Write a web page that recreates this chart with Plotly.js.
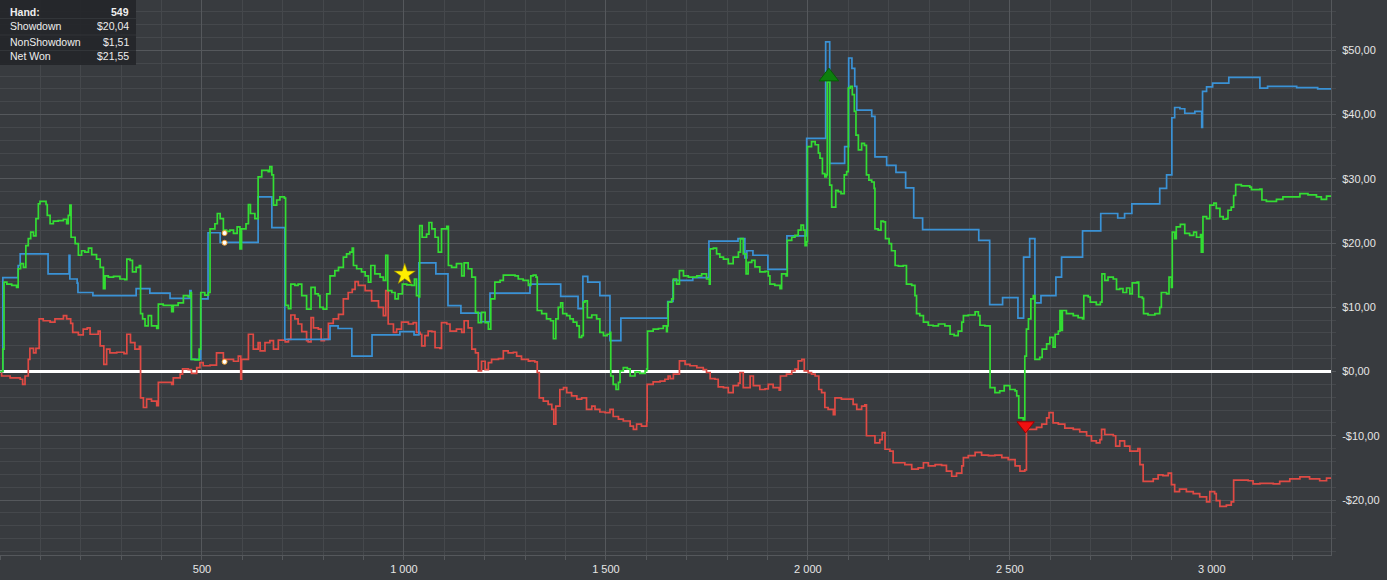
<!DOCTYPE html>
<html><head><meta charset="utf-8">
<script src="https://cdn.plot.ly/plotly-3.0.1.min.js"></script>
<style>html,body{margin:0;padding:0;background:#383b3f;}#chart{width:1387px;height:580px;}</style>
</head><body><div id="chart"></div>
<script>
// Showdown winnings (blue, step line)
const showdownHands=[0,7,45,50,119,171,173,191,193,230,337,371,421,470,473,497,515,545,639,673,705,817,837,871,921,990,1025,1037,1079,1109,1141,1190,1213,1312,1388,1431,1443,1455,1485,1510,1537,1653,1666,1715,1755,1827,1844,1849,1864,1901,1948,1997,2044,2054,2091,2101,2109,2116,2121,2158,2166,2195,2218,2242,2262,2284,2423,2450,2482,2520,2534,2549,2562,2577,2614,2628,2680,2725,2767,2784,2802,2871,2888,2901,2908,2921,2933,2958,2975,2977,2987,3002,3042,3119,3138,3210,3262,3295];
const showdownValues=[0,14.6,16.5,18.3,15.2,18.1,14.4,13.75,12.3,11.8,12.9,12.2,11.4,12.6,1.9,11.3,21.6,20.1,27.2,22.4,5.0,7.1,6.7,2.4,5.7,6.2,5.7,16.9,15.2,10.25,9.1,7.75,12.2,13.6,11.7,9.8,14.8,13.9,11.8,4.8,8.3,10.9,14.2,14.6,20.3,20.7,17.7,18.8,18.1,15.9,21.1,36.3,51.3,32.4,35.0,48.8,47.2,44.4,40.7,39.7,33.4,32.1,31.0,28.6,23.9,22.1,20.4,10.4,11.5,8.3,17.8,20.7,10.7,11.8,14.7,17.8,21.9,24.6,23.9,24.6,26.1,28.5,30.6,39.5,41.1,40.9,40.2,40.5,38.0,43.6,44.3,44.9,45.8,44.1,44.4,44.2,44.0,44.0];

// Non-showdown winnings (red)
const nonShowdownHands=[0,4,25,50,56,62,70,74,83,89,97,107,124,136,157,165,175,180,194,206,216,223,243,248,257,264,272,289,307,314,323,334,345,348,355,363,375,388,392,413,425,429,446,452,466,474,487,495,503,520,536,553,578,590,596,598,615,627,639,644,656,668,677,689,706,714,720,730,738,747,759,763,770,776,788,795,803,813,825,838,850,862,872,879,887,904,920,937,949,955,961,974,982,994,1011,1023,1031,1040,1044,1052,1060,1069,1077,1089,1093,1106,1114,1130,1143,1149,1159,1168,1177,1184,1192,1201,1209,1217,1234,1246,1258,1271,1279,1291,1308,1312,1324,1330,1335,1345,1357,1366,1371,1376,1386,1395,1403,1415,1428,1440,1452,1465,1473,1485,1498,1510,1518,1531,1543,1560,1568,1576,1588,1601,1602,1617,1634,1646,1654,1659,1667,1679,1682,1696,1708,1725,1741,1749,1758,1770,1778,1791,1803,1815,1828,1832,1840,1857,1865,1881,1894,1902,1914,1929,1932,1947,1960,1968,1976,1985,1991,2001,2009,2018,2027,2034,2042,2050,2063,2067,2083,2100,2112,2121,2133,2141,2145,2158,2166,2178,2184,2191,2203,2211,2224,2240,2257,2273,2286,2298,2315,2331,2343,2356,2368,2381,2385,2397,2414,2430,2447,2463,2480,2496,2513,2525,2537,2541,2554,2566,2579,2591,2597,2607,2620,2636,2657,2673,2690,2702,2714,2723,2727,2735,2747,2756,2762,2772,2784,2797,2809,2817,2822,2830,2842,2855,2867,2879,2892,2900,2908,2920,2937,2954,2970,2987,2995,3007,3011,3020,3036,3048,3054,3069,3090,3102,3119,3152,3168,3193,3218,3242,3267,3284,3295];
const nonShowdownValues=[0,-0.7,-1.0,-1.2,-2.0,-0.7,1.9,3.6,2.9,3.6,8.2,7.9,7.7,8.2,8.7,8.2,7.5,6.1,5.7,6.6,6.8,5.8,6.3,4.0,1.1,3.5,2.9,3.0,2.8,5.8,4.5,3.5,3.9,-4.1,-5.6,-4.3,-4.6,-5.3,-1.7,-1.7,-2.0,-1.0,-0.4,0.4,0.3,-0.3,0.6,1.4,0.9,1.0,2.9,1.9,1.6,2.4,-1.2,1.9,5.8,3.5,4.5,3.2,4.5,4.8,3.5,4.9,4.6,5.0,8.8,8.2,7.4,6.2,4.8,4.6,8.4,6.8,6.6,4.8,5.0,7.5,8.2,8.9,11.3,12.3,12.8,14.0,13.4,12.6,11.0,10.0,8.7,12.6,7.4,6.1,6.6,7.7,7.4,7.6,6.1,5.8,4.0,5.6,6.3,6.2,3.7,3.6,7.6,7.4,6.3,6.6,6.1,7.9,6.8,3.5,2.9,0.1,1.6,0.3,1.4,1.9,2.0,3.2,2.9,3.0,2.4,1.9,1.6,1.66,1.5,-0.15,-4.1,-4.6,-5.1,-5.9,-8.2,-5.4,-2.8,-2.5,-3.3,-3.8,-4.3,-4.1,-5.9,-5.4,-5.9,-6.3,-6.4,-5.9,-7.0,-7.4,-7.7,-8.5,-9.0,-8.2,-8.5,-7.7,-2.0,-1.6,-1.5,-1.2,-0.7,-1.1,-0.4,-0.4,1.66,1.1,0.9,0.6,0.3,-0.15,-1.1,-1.2,-2.4,-2.5,-3.3,-2.2,-1.8,-0.15,-2.5,-0.7,-2.2,-2.8,-2.7,-2.0,-2.5,-2.9,-0.7,-0.4,0.08,0.36,1.66,1.9,0.1,-0.16,-0.4,-0.7,-2.8,-3.3,-5.6,-5.9,-6.7,-4.1,-4.3,-4.3,-5.1,-5.9,-5.4,-5.2,-10.0,-10.0,-11.1,-10.6,-9.5,-12.1,-12.4,-14.2,-14.2,-14.5,-15.2,-15.0,-14.2,-14.7,-14.5,-14.6,-15.5,-16.3,-15.8,-14.7,-13.4,-13.1,-12.6,-13.0,-13.1,-13.0,-13.4,-13.7,-14.7,-15.5,-15.3,-9.0,-9.0,-8.7,-8.2,-7.2,-6.4,-8.0,-8.2,-8.8,-9.0,-9.4,-10.0,-10.8,-11.1,-10.6,-9.0,-9.8,-9.8,-10.0,-11.6,-10.8,-11.6,-12.4,-12.4,-12.0,-14.5,-17.1,-17.1,-16.7,-16.1,-16.2,-15.8,-17.6,-18.7,-18.3,-18.7,-19.0,-19.5,-20.3,-18.7,-19.0,-20.1,-21.0,-20.8,-20.3,-16.9,-16.9,-17.0,-17.5,-17.4,-17.5,-17.1,-16.7,-16.4,-16.7,-17.0,-16.6,-16.6];

// Net won (green)
const netWonHands=[0,7,10,17,29,41,45,51,58,64,70,76,83,89,95,99,114,117,124,132,144,157,165,169,173,176,186,194,202,210,219,227,239,248,256,260,268,281,297,309,314,322,328,337,345,348,353,359,367,375,388,392,404,417,425,429,441,454,466,472,474,483,493,497,507,516,520,532,538,545,553,561,569,578,587,594,598,609,615,620,631,639,648,656,664,668,673,677,685,693,704,707,714,720,730,738,747,759,763,770,780,788,792,800,809,817,829,838,850,858,866,872,875,883,895,904,912,918,928,941,949,955,960,970,978,986,996,1007,1019,1026,1031,1037,1039,1045,1056,1062,1069,1077,1085,1093,1106,1110,1118,1130,1143,1149,1159,1168,1177,1184,1192,1201,1209,1215,1225,1238,1246,1262,1275,1283,1295,1308,1314,1320,1327,1330,1341,1353,1363,1370,1376,1382,1388,1393,1403,1411,1419,1428,1434,1440,1444,1448,1454,1465,1477,1485,1494,1503,1510,1512,1518,1525,1531,1535,1543,1553,1560,1572,1584,1597,1601,1603,1617,1630,1642,1650,1652,1654,1663,1667,1675,1682,1692,1704,1716,1725,1737,1749,1756,1758,1766,1774,1782,1791,1803,1815,1828,1833,1840,1847,1852,1861,1869,1881,1894,1902,1906,1918,1931,1935,1946,1949,1960,1968,1976,1983,1989,1993,1997,1999,2009,2018,2026,2030,2036,2042,2046,2048,2052,2054,2059,2065,2069,2075,2082,2090,2096,2100,2105,2110,2115,2119,2125,2133,2140,2145,2151,2158,2164,2166,2174,2181,2187,2192,2201,2207,2216,2224,2236,2244,2257,2265,2269,2277,2286,2298,2310,2323,2339,2352,2362,2372,2381,2385,2397,2414,2422,2426,2438,2449,2451,2463,2475,2486,2500,2513,2517,2522,2533,2537,2541,2546,2552,2558,2562,2574,2580,2591,2599,2607,2612,2620,2624,2628,2630,2640,2657,2669,2680,2683,2694,2699,2714,2724,2728,2735,2743,2756,2764,2772,2780,2789,2797,2803,2815,2819,2828,2831,2842,2859,2871,2875,2888,2894,2900,2902,2908,2912,2922,2933,2945,2955,2962,2972,2974,2978,2987,2995,3005,3011,3020,3028,3036,3040,3048,3054,3059,3073,3094,3098,3119,3124,3135,3160,3176,3193,3218,3238,3259,3271,3284,3295];
const netWonValues=[0,3.5,13.9,13.6,13.4,13.1,16.0,16.8,16.2,19.6,20.7,21.7,21.1,23.8,26.1,26.5,26.0,24.3,23.0,23.4,23.5,23.7,23.0,24.3,25.9,20.9,19.9,18.1,18.8,18.6,19.2,18.2,17.5,16.2,12.9,14.9,14.7,14.8,14.4,14.3,17.5,17.3,15.5,16.2,16.5,9.0,8.2,7.1,8.7,7.1,6.7,10.5,10.3,10.3,9.3,10.3,10.7,11.8,11.6,12.3,1.9,1.8,3.5,12.3,11.9,12.3,22.2,23.0,24.6,23.8,22.0,21.8,22.0,21.5,22.5,19.1,22.2,23.0,26.0,24.6,23.8,30.3,31.3,31.3,31.1,31.9,30.6,25.9,26.7,27.2,27.0,10.3,9.8,13.6,13.4,13.6,11.8,9.7,9.7,13.1,12.1,11.8,10.0,9.7,12.1,14.9,15.7,16.2,17.8,18.3,18.6,19.2,16.5,16.0,15.5,14.9,13.9,16.5,15.2,14.7,14.2,18.1,12.6,12.3,11.3,12.1,13.6,13.5,13.4,14.4,11.8,11.6,22.7,20.9,21.4,23.2,22.2,20.9,18.6,22.2,22.6,16.5,16.2,16.8,14.9,16.9,16.0,14.7,9.2,7.6,9.2,7.6,6.6,11.3,13.9,14.2,15.0,15.0,14.9,14.4,14.2,13.4,14.9,15.0,14.7,9.5,9.0,8.2,7.9,5.1,8.2,10.0,10.7,9.0,8.7,8.2,7.7,7.1,5.3,5.6,10.8,11.0,8.4,8.8,8.2,6.1,5.6,5.8,6.1,-0.7,-2.0,-2.8,-1.7,0.1,0.6,0.4,-0.7,-0.05,-0.3,0.1,0.4,6.3,6.6,6.7,7.1,6.2,7.1,10.8,11.3,14.4,13.6,15.7,14.9,14.7,14.7,14.9,15.2,14.4,13.6,19.1,19.2,18.3,17.8,17.5,16.8,17.8,18.6,20.7,18.3,15.2,17.0,17.3,16.3,15.5,15.6,14.9,13.6,13.4,12.9,15.2,14.9,20.4,20.9,21.2,22.0,22.8,22.0,19.6,20.2,35.0,35.8,35.3,34.0,33.2,30.8,30.3,30.6,45.1,45.1,29.0,25.6,25.6,28.2,28.0,27.7,30.6,31.1,44.1,44.4,43.1,40.5,36.8,34.5,35.5,35.2,30.6,29.8,29.5,28.5,22.2,22.0,23.4,23.3,20.7,19.9,18.8,16.5,16.4,16.5,13.6,13.4,11.8,9.0,8.7,7.7,7.2,7.1,7.4,7.1,5.8,5.6,6.3,7.7,8.7,8.8,9.3,8.7,7.2,7.1,7.1,-2.5,-3.3,-3.0,-2.2,-2.8,-3.0,-3.8,-7.2,-7.5,2.4,6.6,8.2,11.3,11.8,1.9,2.2,3.5,4.3,5.3,3.8,5.8,6.3,9.5,6.4,9.5,9.0,8.7,8.4,8.2,11.8,11.6,10.8,10.4,10.8,15.2,14.2,14.7,14.4,12.8,12.9,12.3,13.0,12.1,13.8,13.9,11.6,11.4,9.0,8.8,9.0,10.0,12.3,12.1,14.7,13.1,21.7,20.7,22.5,22.9,21.5,21.2,21.7,20.9,21.3,18.6,24.1,23.8,25.9,26.2,25.4,24.1,23.7,23.8,25.1,25.6,27.4,29.1,28.9,28.7,28.3,28.4,26.7,26.5,26.8,27.2,27.2,27.7,27.5,27.2,26.8,27.3,27.4];

// Event markers
const bestHand=[2052], bestValue=[45.9];
const worstHand=[2539], worstValue=[-8.4];
const starHand=[1002], starValue=[15.1];
const selectedHand=[556,556,556], selectedValues=[21.55,20.04,1.51];

// Axis ticks
const xTickVals=[500,1000,1500,2000,2500,3000];
const xTickText=['500','1 000','1 500','2 000','2 500','3 000'];
const yTickVals=[-20,-10,0,10,20,30,40,50];
const yTickText=['-$20,00','-$10,00','$0,00','$10,00','$20,00','$30,00','$40,00','$50,00'];

// Info box
const infoLabels=['Hand:','Showdown','NonShowdown','Net Won'];
const infoValues=['549','$20,04','$1,51','$21,55'];

const BG='#383b3f', GRID='#55585c', MINOR='#45484c';
const W=1331, H=555;

const traces=[
 {x:nonShowdownHands,y:nonShowdownValues,type:'scatter',mode:'lines',line:{color:'#df4a44',width:1.7,shape:'hv'},hoverinfo:'skip'},
 {x:showdownHands,y:showdownValues,type:'scatter',mode:'lines',line:{color:'#3a92d6',width:1.7,shape:'hv'},hoverinfo:'skip'},
 {x:netWonHands,y:netWonValues,type:'scatter',mode:'lines',line:{color:'#33dd33',width:1.7,shape:'hv'},hoverinfo:'skip'},
 {x:bestHand,y:bestValue,type:'scatter',mode:'markers',marker:{symbol:'triangle-up',size:17,color:'#0d7f0d',line:{color:'#075a07',width:1}},hoverinfo:'skip'},
 {x:worstHand,y:worstValue,type:'scatter',mode:'markers',marker:{symbol:'triangle-down',size:15,color:'#f01010',line:{color:'#a00000',width:1}},hoverinfo:'skip'},
 {x:starHand,y:starValue,type:'scatter',mode:'markers',marker:{symbol:'star',size:16,color:'#ffee00',line:{color:'#8a7a00',width:0.6}},hoverinfo:'skip'},
 {x:selectedHand,y:selectedValues,type:'scatter',mode:'markers',marker:{symbol:'circle',size:5,color:'#ffffff',line:{color:'#f0a030',width:1}},hoverinfo:'skip'}
];

const annotations=[];
const rowsY=[11.5,26.5,42,56.5];
infoLabels.forEach((t,i)=>{
  annotations.push({xref:'paper',yref:'paper',x:8/W,y:1-rowsY[i]/H,xanchor:'left',yanchor:'middle',showarrow:false,
    text:i===0?'<b>'+t+'</b>':t,font:{family:'Liberation Sans, Arial, sans-serif',size:10.5,color:'#eeeeee'}});
  annotations.push({xref:'paper',yref:'paper',x:131/W,y:1-rowsY[i]/H,xanchor:'right',yanchor:'middle',showarrow:false,
    text:i===0?'<b>'+infoValues[i]+'</b>':infoValues[i],font:{family:'Liberation Sans, Arial, sans-serif',size:10.5,color:'#eeeeee'}});
});

const shapes=[
 {type:'rect',xref:'paper',yref:'paper',x0:0,x1:136/W,y0:1-65/H,y1:1,fillcolor:'rgba(36,38,41,0.92)',line:{width:0},layer:'above'},
 {type:'line',xref:'paper',yref:'paper',x0:0,x1:136/W,y0:1-18.5/H,y1:1-18.5/H,line:{color:'#323539',width:1},layer:'above'},
 {type:'line',xref:'paper',yref:'paper',x0:0,x1:136/W,y0:1-35/H,y1:1-35/H,line:{color:'#323539',width:1},layer:'above'},
 {type:'line',xref:'paper',yref:'paper',x0:0,x1:136/W,y0:1-50.5/H,y1:1-50.5/H,line:{color:'#323539',width:1},layer:'above'}
];

const tickFont={family:'Liberation Sans, Arial, sans-serif',size:11,color:'#e6e6e6'};

const layout={
 width:1387,height:580,
 paper_bgcolor:BG,plot_bgcolor:BG,
 margin:{l:0,r:56,t:0,b:25,pad:0},
 showlegend:false,
 xaxis:{range:[0,3295],tickmode:'array',tickvals:xTickVals,ticktext:xTickText,
   showgrid:true,gridcolor:GRID,gridwidth:1,zeroline:false,showline:true,linecolor:GRID,linewidth:1,
   ticks:'outside',ticklen:4,tickcolor:GRID,tickfont:tickFont,fixedrange:true,
   minor:{tickmode:'linear',tick0:0,dtick:100,showgrid:true,gridcolor:MINOR,ticks:'outside',ticklen:4,tickcolor:GRID}},
 yaxis:{range:[-28.56,57.83],side:'right',tickmode:'array',tickvals:yTickVals,ticktext:yTickText,
   showgrid:true,gridcolor:GRID,gridwidth:1,zeroline:true,zerolinecolor:'#ffffff',zerolinewidth:2.5,
   showline:true,linecolor:GRID,linewidth:1,ticks:'outside',ticklen:4,tickcolor:GRID,tickfont:tickFont,
   ticklabelstandoff:4,fixedrange:true,
   minor:{tickmode:'linear',tick0:0,dtick:2,showgrid:true,gridcolor:MINOR,ticks:'outside',ticklen:4,tickcolor:MINOR}},
 annotations:annotations,shapes:shapes
};

Plotly.newPlot('chart',traces,layout,{displayModeBar:false,staticPlot:true});
</script></body></html>
